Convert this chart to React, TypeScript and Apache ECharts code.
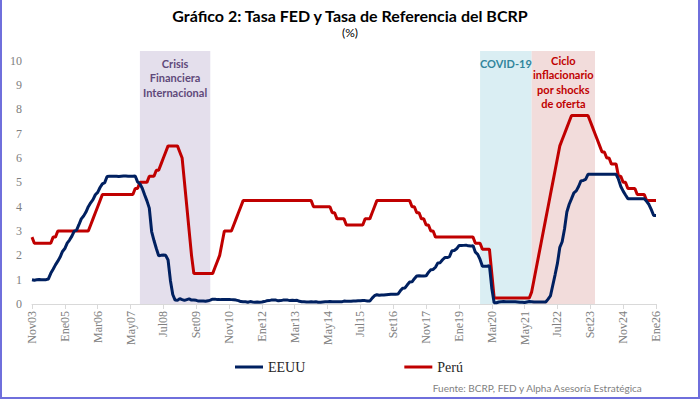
import React, { useEffect, useRef } from "react";
import * as echarts from "echarts";

// Monthly categories Nov03 .. Ene26
const monthNames = ["Ene", "Feb", "Mar", "Abr", "May", "Jun", "Jul", "Ago", "Set", "Oct", "Nov", "Dic"];

// Fed funds (EEUU), monthly, Nov 2003 - Jan 2026
const eeuu = [
  1.00, 0.98,
  1.00, 1.01, 1.00, 1.00, 1.00, 1.03, 1.26, 1.43, 1.61, 1.76, 1.93, 2.16,
  2.28, 2.50, 2.63, 2.79, 3.00, 3.04, 3.26, 3.50, 3.62, 3.78, 4.00, 4.16,
  4.29, 4.49, 4.59, 4.79, 4.94, 4.99, 5.24, 5.25, 5.25, 5.25, 5.25, 5.24,
  5.25, 5.26, 5.26, 5.25, 5.25, 5.25, 5.26, 5.02, 4.94, 4.76, 4.49, 4.24,
  3.94, 2.98, 2.61, 2.28, 1.98, 2.00, 2.01, 2.00, 1.81, 0.97, 0.39, 0.16,
  0.15, 0.22, 0.18, 0.15, 0.18, 0.21, 0.16, 0.16, 0.15, 0.12, 0.12, 0.12,
  0.11, 0.13, 0.16, 0.20, 0.20, 0.18, 0.18, 0.19, 0.19, 0.19, 0.19, 0.18,
  0.17, 0.16, 0.14, 0.10, 0.09, 0.09, 0.07, 0.10, 0.08, 0.07, 0.08, 0.07,
  0.08, 0.10, 0.13, 0.14, 0.16, 0.16, 0.16, 0.13, 0.14, 0.16, 0.16, 0.16,
  0.14, 0.15, 0.14, 0.15, 0.11, 0.09, 0.09, 0.08, 0.08, 0.09, 0.08, 0.09,
  0.07, 0.07, 0.08, 0.09, 0.09, 0.10, 0.09, 0.09, 0.09, 0.09, 0.09, 0.12,
  0.11, 0.11, 0.11, 0.12, 0.12, 0.13, 0.13, 0.14, 0.14, 0.12, 0.12, 0.24,
  0.34, 0.38, 0.36, 0.37, 0.37, 0.38, 0.39, 0.40, 0.40, 0.40, 0.41, 0.54,
  0.65, 0.66, 0.79, 0.90, 0.91, 1.04, 1.15, 1.16, 1.15, 1.15, 1.16, 1.30,
  1.41, 1.42, 1.51, 1.69, 1.70, 1.82, 1.91, 1.91, 1.95, 2.19, 2.20, 2.27,
  2.40, 2.40, 2.41, 2.42, 2.39, 2.38, 2.40, 2.13, 2.04, 1.83, 1.55, 1.55,
  1.55, 1.58, 0.65, 0.05, 0.05, 0.08, 0.09, 0.10, 0.09, 0.09, 0.09, 0.09,
  0.09, 0.08, 0.07, 0.07, 0.06, 0.08, 0.10, 0.09, 0.08, 0.08, 0.08, 0.08,
  0.08, 0.08, 0.20, 0.33, 0.77, 1.21, 1.68, 2.33, 2.56, 3.08, 3.78, 4.10,
  4.33, 4.57, 4.65, 4.83, 5.06, 5.08, 5.12, 5.33, 5.33, 5.33, 5.33, 5.33,
  5.33, 5.33, 5.33, 5.33, 5.33, 5.33, 5.33, 5.33, 5.13, 4.83, 4.64, 4.48,
  4.33, 4.33, 4.33, 4.33, 4.33, 4.33, 4.33, 4.33, 4.22, 4.09, 3.88, 3.64,
  3.64,
];

// BCRP reference rate (Perú), monthly, Nov 2003 - Jan 2026
const peru = [
  2.75, 2.50,
  2.50, 2.50, 2.50, 2.50, 2.50, 2.50, 2.50, 2.75, 2.75, 3.00, 3.00, 3.00,
  3.00, 3.00, 3.00, 3.00, 3.00, 3.00, 3.00, 3.00, 3.00, 3.00, 3.00, 3.25,
  3.50, 3.75, 4.00, 4.25, 4.50, 4.50, 4.50, 4.50, 4.50, 4.50, 4.50, 4.50,
  4.50, 4.50, 4.50, 4.50, 4.50, 4.50, 4.75, 4.75, 5.00, 5.00, 5.00, 5.00,
  5.25, 5.25, 5.25, 5.50, 5.50, 5.75, 6.00, 6.25, 6.50, 6.50, 6.50, 6.50,
  6.50, 6.25, 6.00, 5.00, 4.00, 3.00, 2.00, 1.25, 1.25, 1.25, 1.25, 1.25,
  1.25, 1.25, 1.25, 1.25, 1.50, 1.75, 2.00, 2.50, 3.00, 3.00, 3.00, 3.00,
  3.25, 3.50, 3.75, 4.00, 4.25, 4.25, 4.25, 4.25, 4.25, 4.25, 4.25, 4.25,
  4.25, 4.25, 4.25, 4.25, 4.25, 4.25, 4.25, 4.25, 4.25, 4.25, 4.25, 4.25,
  4.25, 4.25, 4.25, 4.25, 4.25, 4.25, 4.25, 4.25, 4.25, 4.25, 4.00, 4.00,
  4.00, 4.00, 4.00, 4.00, 4.00, 4.00, 3.75, 3.75, 3.50, 3.50, 3.50, 3.50,
  3.25, 3.25, 3.25, 3.25, 3.25, 3.25, 3.25, 3.25, 3.50, 3.50, 3.50, 3.75,
  4.00, 4.25, 4.25, 4.25, 4.25, 4.25, 4.25, 4.25, 4.25, 4.25, 4.25, 4.25,
  4.25, 4.25, 4.25, 4.25, 4.00, 4.00, 3.75, 3.75, 3.50, 3.50, 3.25, 3.25,
  3.00, 3.00, 2.75, 2.75, 2.75, 2.75, 2.75, 2.75, 2.75, 2.75, 2.75, 2.75,
  2.75, 2.75, 2.75, 2.75, 2.75, 2.75, 2.75, 2.50, 2.50, 2.50, 2.25, 2.25,
  2.25, 2.25, 1.25, 0.25, 0.25, 0.25, 0.25, 0.25, 0.25, 0.25, 0.25, 0.25,
  0.25, 0.25, 0.25, 0.25, 0.25, 0.25, 0.25, 0.50, 1.00, 1.50, 2.00, 2.50,
  3.00, 3.50, 4.00, 4.50, 5.00, 5.50, 6.00, 6.50, 6.75, 7.00, 7.25, 7.50,
  7.75, 7.75, 7.75, 7.75, 7.75, 7.75, 7.75, 7.75, 7.50, 7.25, 7.00, 6.75,
  6.50, 6.25, 6.25, 6.00, 6.00, 5.75, 5.75, 5.75, 5.25, 5.25, 5.00, 5.00,
  4.75, 4.75, 4.75, 4.75, 4.50, 4.50, 4.50, 4.50, 4.25, 4.25, 4.25, 4.25,
  4.25,
];

const categories: string[] = [];
for (let i = 0; i < eeuu.length; i++) {
  const k = 10 + i; // Nov 2003 start
  const m = k % 12;
  const y = 2003 + Math.floor(k / 12);
  categories.push(monthNames[m] + String(y % 100).padStart(2, "0"));
}

// Shaded episodes
const episodes = [
  { name: "Crisis\nFinanciera\nInternacional", from: "Set07", to: "Mar10", fill: "#e4dfec", color: "#5f497a", dist: 5 },
  { name: "COVID-19", from: "Oct19", to: "Ago21", fill: "#daeef3", color: "#31859c", dist: 5 },
  { name: "Ciclo\ninflacionario\npor shocks\nde oferta", from: "Ago21", to: "Nov23", fill: "#f2dcdb", color: "#c00000", dist: 2 },
];
const yTop = 10.4;

export default function App() {
  const ref = useRef<HTMLDivElement>(null);
  useEffect(() => {
    if (!ref.current) return;
    const chart = echarts.init(ref.current, null, { renderer: "svg" });
    const serif = "Liberation Serif";
    const sans = "Lato";
    chart.setOption({
      animation: false,
      backgroundColor: "#ffffff",
      title: {
        text: "Gráfico 2: Tasa FED y Tasa de Referencia del BCRP",
        subtext: "(%)",
        left: "center",
        top: 2,
        itemGap: 3,
        textStyle: { fontFamily: sans, fontSize: 16, fontWeight: "bold", color: "#000000" },
        subtextStyle: { fontFamily: sans, fontSize: 12, color: "#000000" },
      },
      legend: {
        data: [{ name: "EEUU" }, { name: "Perú" }],
        icon: "rect",
        itemWidth: 28,
        itemHeight: 3,
        left: 230,
        top: 355,
        itemGap: 99,
        textStyle: { fontFamily: serif, fontSize: 14, color: "#262626" },
      },
      grid: { left: 32, right: 44, top: 51, bottom: 95 },
      xAxis: {
        type: "category",
        data: categories,
        boundaryGap: false,
        axisLine: { lineStyle: { color: "#d9d9d9", width: 1 } },
        axisTick: { show: true, interval: 13, length: 5, lineStyle: { color: "#d9d9d9" } },
        axisLabel: {
          interval: 13,
          rotate: 90,
          margin: 7,
          fontFamily: serif,
          fontSize: 12,
          color: "#808080",
        },
        splitLine: { show: false },
      },
      yAxis: {
        type: "value",
        min: 0,
        max: yTop,
        interval: 1,
        axisLine: { show: false },
        axisTick: { show: false },
        splitLine: { show: false },
        axisLabel: {
          fontFamily: serif,
          fontSize: 12,
          color: "#808080",
          margin: 10,
          showMaxLabel: false,
          formatter: (v: number) => (Number.isInteger(v) ? String(v) : ""),
        },
      },
      series: [
        {
          name: "EEUU",
          type: "line",
          data: eeuu,
          showSymbol: false,
          clip: false,
          lineStyle: { color: "#002060", width: 3 },
          itemStyle: { color: "#002060" },
          z: 3,
          markArea: {
            silent: true,
            z: 1,
            data: episodes.map((e) => [
              {
                xAxis: e.from,
                yAxis: 0,
                itemStyle: { color: e.fill },
                label: {
                  show: true,
                  position: "insideTop",
                  distance: e.dist,
                  formatter: e.name,
                  color: e.color,
                  fontFamily: sans,
                  fontSize: 11,
                  fontWeight: "bold",
                  lineHeight: 14.5,
                  align: "center",
                },
              },
              { xAxis: e.to, yAxis: yTop },
            ]),
          },
        },
        {
          name: "Perú",
          type: "line",
          data: peru,
          showSymbol: false,
          clip: false,
          lineStyle: { color: "#c00000", width: 3 },
          itemStyle: { color: "#c00000" },
          z: 2,
        },
      ],
      graphic: [
        {
          type: "text",
          right: 57,
          top: 383,
          style: {
            text: "Fuente: BCRP, FED y Alpha Asesoría Estratégica",
            fontFamily: sans,
            fontSize: 10,
            fill: "#7f7f7f",
          },
        },
      ],
    });
    return () => chart.dispose();
  }, []);
  return (
    <div style={{ position: "fixed", left: 0, top: 0, width: 700, height: 399, background: "#fff" }}>
      <div ref={ref} style={{ width: 700, height: 399 }} />
      <div
        style={{
          position: "absolute",
          left: 0,
          top: 0,
          width: 700,
          height: 399,
          boxSizing: "border-box",
          borderLeft: "2px solid #6f6fdc",
          borderRight: "2px solid #6f6fdc",
          borderBottom: "2px solid #6f6fdc",
          pointerEvents: "none",
        }}
      />
    </div>
  );
}
